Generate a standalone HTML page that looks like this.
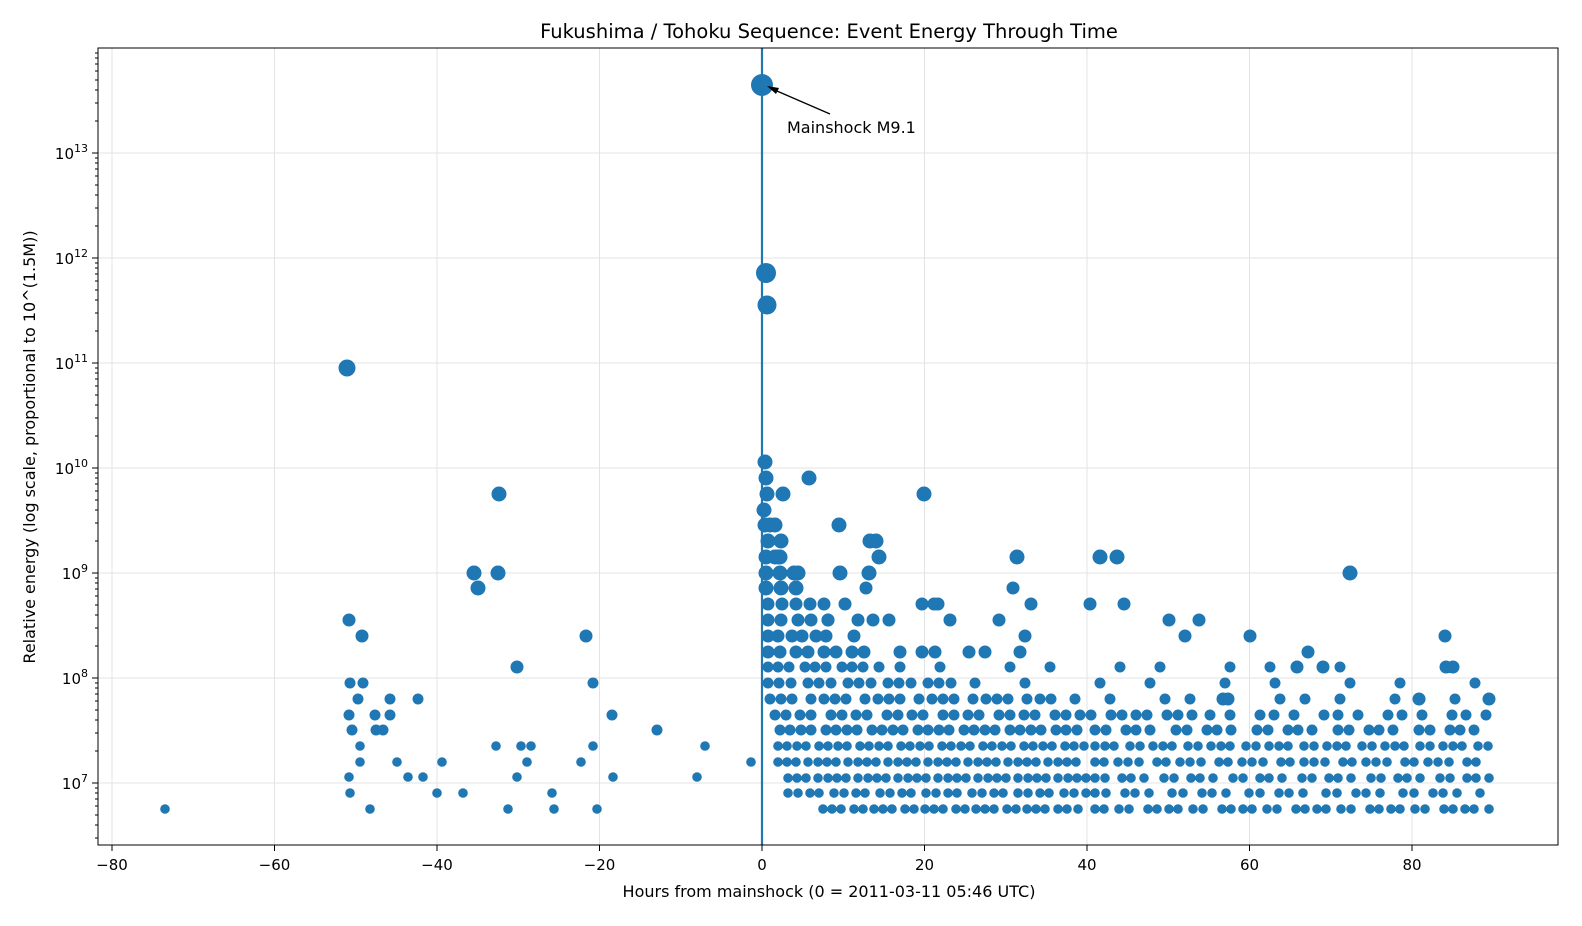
<!DOCTYPE html>
<html><head><meta charset="utf-8"><style>
body{margin:0;background:#fff}
svg{display:block;font-family:"DejaVu Sans","Liberation Sans",sans-serif}
</style></head><body>
<svg width="1582" height="926" xmlns="http://www.w3.org/2000/svg">
<rect width="1582" height="926" fill="#fff"/>
<g stroke="#e3e3e3" stroke-width="1">
<path d="M112,48V845M274.5,48V845M437,48V845M599.5,48V845M924.5,48V845M1087,48V845M1249.5,48V845M1412,48V845"/>
<path d="M98,783H1558M98,678H1558M98,573H1558M98,468H1558M98,363H1558M98,258H1558M98,153H1558"/>
</g>
<g fill="none" stroke="#1f77b4" stroke-linecap="round">
<g stroke-width="9.6">
<path d="M823,809H1087" stroke-dasharray="0 9 0 9 0 13 0 9 0 11"/>
<path d="M1095,809H1490" stroke-dasharray="0 9 0 15 0 10 0 19 0 9 0 12"/>
<path d="M788,793H1087" stroke-dasharray="0 10 0 12 0 9 0 15"/>
<path d="M1095,793H1490" stroke-dasharray="0 11 0 19 0 10 0 14 0 23"/>
<path d="M788,778H1087" stroke-dasharray="0 9 0 9 0 12 0 10"/>
<path d="M1095,778H1490" stroke-dasharray="0 10 0 17 0 9 0 13 0 20"/>
<path d="M778,762H1087" stroke-dasharray="0 9 0 9 0 12 0 10"/>
<path d="M1095,762H1490" stroke-dasharray="0 9 0 14 0 10 0 11 0 18"/>
<path d="M778,746H1087" stroke-dasharray="0 9 0 10 0 9 0 13"/>
<path d="M1095,746H1490" stroke-dasharray="0 10 0 9 0 16 0 10 0 13"/>
</g>
<g stroke-width="11">
<path d="M780,730H1087" stroke-dasharray="0 10 0 11 0 10 0 15"/>
<path d="M1095,730H1490" stroke-dasharray="0 11 0 20 0 10 0 14 0 26"/>
<path d="M775,715H1200" stroke-dasharray="0 11 0 14 0 11 0 20"/>
<path d="M1210,715H1490" stroke-dasharray="0 20 0 30 0 14"/>
<path d="M770,699H1060" stroke-dasharray="0 11 0 11 0 19 0 13"/>
<path d="M1075,699H1490" stroke-dasharray="0 35 0 55 0 25"/>
<path d="M768,683H960" stroke-dasharray="0 11 0 12 0 17"/>
<path d="M975,683H1490" stroke-dasharray="0 50 0 75"/>
<path d="M768,667H880" stroke-dasharray="0 10 0 11 0 16"/>
<path d="M900,667H1360" stroke-dasharray="0 40 0 70"/>
</g>
<g stroke-width="13">
<path d="M768,652H880" stroke-dasharray="0 12 0 16"/>
<path d="M900,652H1050" stroke-dasharray="0 35 0 50"/>
<path d="M768,636H840" stroke-dasharray="0 10 0 14"/>
<path d="M768,620H835" stroke-dasharray="0 13 0 17"/>
<path d="M768,604H830" stroke-dasharray="0 14"/>
</g>
<g stroke-width="15">
<path d="M766,588H810" stroke-dasharray="0 15"/>
<path d="M766,573H800" stroke-dasharray="0 14"/>
<path d="M766,557H790" stroke-dasharray="0 12"/>
</g>
<path stroke-width="9.6" d="M165,809h0M349,777h0M350,793h0M370,809h0M360,746h0M360,762h0M397,762h0M408,777h0M423,777h0M437,793h0M442,762h0M463,793h0M496,746h0M508,809h0M517,777h0M521,746h0M527,762h0M531,746h0M552,793h0M554,809h0M581,762h0M593,746h0M597,809h0M613,777h0M697,777h0M705,746h0M751,762h0"/>
<path stroke-width="11" d="M349,715h0M350,683h0M352,730h0M363,683h0M358,699h0M375,715h0M376,730h0M383,730h0M390,699h0M390,715h0M418,699h0M612,715h0M657,730h0M593,683h0"/>
<path stroke-width="13" d="M349,620h0M362,636h0M586,636h0M517,667h0M1031,604h0M1090,604h0M1124,604h0M1199,620h0M1169,620h0M1250,636h0M1185,636h0M1308,652h0M1323,667h0M1297,667h0M1223,699h0M1228,699h0M1419,699h0M1489,699h0M1445,636h0M1446,667h0M1453,667h0M934,604h0M938,604h0M950,620h0M922,604h0M1013,588h0M1025,636h0M969,652h0M999,620h0M845,604h0M858,620h0M873,620h0M889,620h0M828,620h0M866,588h0M854,636h0M922,652h0"/>
<path stroke-width="15" d="M474,573h0M478,588h0M498,573h0M499,494h0M765,462h0M766,478h0M767,494h0M764,510h0M765,525h0M770,525h0M775,525h0M783,494h0M809,478h0M839,525h0M924,494h0M870,541h0M876,541h0M879,557h0M1017,557h0M1100,557h0M1117,557h0M1350,573h0M781,541h0M775,557h0M768,541h0M780,557h0M840,573h0M869,573h0M798,573h0"/>
<path stroke-width="17" d="M347,368h0"/>
<path stroke-width="19" d="M767,305h0"/>
<path stroke-width="20" d="M766,273h0"/>
<path stroke-width="22" d="M762,85h0"/>
</g>
<line x1="762" y1="48" x2="762" y2="845" stroke="#1f77b4" stroke-width="2.2"/>
<rect x="98" y="48" width="1460" height="797" fill="none" stroke="#000" stroke-width="1"/>
<g stroke="#000" stroke-width="1">
<path d="M112,845v6M274.5,845v6M437,845v6M599.5,845v6M762,845v6M924.5,845v6M1087,845v6M1249.5,845v6M1412,845v6"/>
<path d="M92,783h6M92,678h6M92,573h6M92,468h6M92,363h6M92,258h6M92,153h6"/>
<path d="M95,838h3M95,825h3M95,815h3M95,806h3M95,799h3M95,793h3M95,788h3M95,751h3M95,733h3M95,720h3M95,710h3M95,701h3M95,694h3M95,688h3M95,683h3M95,646h3M95,628h3M95,615h3M95,605h3M95,596h3M95,589h3M95,583h3M95,578h3M95,541h3M95,523h3M95,510h3M95,500h3M95,491h3M95,484h3M95,478h3M95,473h3M95,436h3M95,418h3M95,405h3M95,395h3M95,386h3M95,379h3M95,373h3M95,368h3M95,331h3M95,313h3M95,300h3M95,290h3M95,281h3M95,274h3M95,268h3M95,263h3M95,226h3M95,208h3M95,195h3M95,185h3M95,176h3M95,169h3M95,163h3M95,158h3M95,121h3M95,103h3M95,90h3M95,80h3M95,71h3M95,64h3M95,58h3M95,53h3"/>
</g>
<g font-size="15" text-anchor="middle">
<text x="112" y="870">−80</text><text x="274.5" y="870">−60</text><text x="437" y="870">−40</text><text x="599.5" y="870">−20</text><text x="762" y="870">0</text><text x="924.5" y="870">20</text><text x="1087" y="870">40</text><text x="1249.5" y="870">60</text><text x="1412" y="870">80</text>
</g>
<g font-size="15" text-anchor="end">
<text x="88" y="789">10<tspan dy="-7" font-size="11">7</tspan></text>
<text x="88" y="684">10<tspan dy="-7" font-size="11">8</tspan></text>
<text x="88" y="579">10<tspan dy="-7" font-size="11">9</tspan></text>
<text x="88" y="474">10<tspan dy="-7" font-size="11">10</tspan></text>
<text x="88" y="369">10<tspan dy="-7" font-size="11">11</tspan></text>
<text x="88" y="264">10<tspan dy="-7" font-size="11">12</tspan></text>
<text x="88" y="159">10<tspan dy="-7" font-size="11">13</tspan></text>
</g>
<text x="829" y="38" font-size="19.5" text-anchor="middle">Fukushima / Tohoku Sequence: Event Energy Through Time</text>
<text x="829" y="897" font-size="16" text-anchor="middle">Hours from mainshock (0 = 2011-03-11 05:46 UTC)</text>
<text transform="translate(35,447) rotate(-90)" font-size="16" text-anchor="middle">Relative energy (log scale, proportional to 10^(1.5M))</text>
<line x1="830" y1="114" x2="770" y2="88" stroke="#000" stroke-width="1.3"/>
<path d="M767,86 L779,88 L776,94 Z" fill="#000"/>
<text x="787" y="133" font-size="16">Mainshock M9.1</text>
</svg>
</body></html>
